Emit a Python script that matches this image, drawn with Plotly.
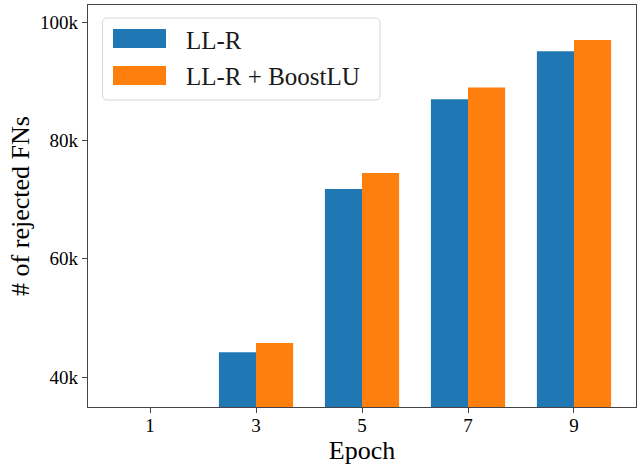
import plotly.graph_objects as go

epochs = ["1", "3", "5", "7", "9"]
series_names = ["LL-R", "LL-R + BoostLU"]
llr = [30000, 44200, 71800, 87000, 95100]
llr_boost = [31000, 45750, 74500, 89000, 97000]
colors = ["#1f77b4", "#ff7f0e"]

W, H = 637, 465
L, R, T, B = 88, 1, 5, 58
pw, ph = W - L - R, H - T - B

def px(x):
    return (x - L) / pw

def py(y):
    return (H - B - y) / ph

FONT = "Liberation Serif"

fig = go.Figure()
for name, vals, c in zip(series_names, [llr, llr_boost], colors):
    fig.add_trace(go.Bar(x=epochs, y=vals, name=name, marker=dict(color=c, line=dict(width=0)),
                         showlegend=False))

fig.update_layout(
    width=W, height=H,
    margin=dict(l=L, r=R, t=T, b=B, autoexpand=False),
    barmode="group", bargap=0.3, bargroupgap=0,
    plot_bgcolor="white", paper_bgcolor="white",
    font=dict(family=FONT, color="black"),
)
fig.update_xaxes(type="category", range=[-0.585, 4.585], showline=True, mirror=True,
                 linecolor="#444", linewidth=1.2, ticks="outside", ticklen=5, tickcolor="#444",
                 ticklabelstandoff=-4,
                 tickfont=dict(size=19, family=FONT), showgrid=False, automargin=False,
                 title=dict(text="Epoch", font=dict(size=26, family=FONT), standoff=3))
fig.update_yaxes(range=[34930, 102940], tickvals=[40000, 60000, 80000, 100000],
                 ticktext=["40k", "60k", "80k", "100k"], showline=True, mirror=True,
                 linecolor="#444", linewidth=1.2, ticks="outside", ticklen=5, tickcolor="#444",
                 tickfont=dict(size=19, family=FONT), showgrid=False, zeroline=False,
                 automargin=False,
                 title=dict(text="# of rejected FNs", font=dict(size=26, family=FONT), standoff=2))

# custom legend (matplotlib style)
x0, x1, y0, y1 = 102.5, 380, 18, 100
r = 5
rx, ry = r / pw, r / ph
X0, X1, Y0, Y1 = px(x0), px(x1), py(y0), py(y1)
path = (f"M {X0+rx},{Y0} L {X1-rx},{Y0} Q {X1},{Y0} {X1},{Y0-ry} "
        f"L {X1},{Y1+ry} Q {X1},{Y1} {X1-rx},{Y1} L {X0+rx},{Y1} Q {X0},{Y1} {X0},{Y1+ry} "
        f"L {X0},{Y0-ry} Q {X0},{Y0} {X0+rx},{Y0} Z")
fig.add_shape(type="path", path=path, xref="paper", yref="paper",
              line=dict(color="#d6d6d6", width=1), fillcolor="rgba(255,255,255,0.8)")
rows = [(29, 48, 40), (66, 85, 77)]
for (ya, yb, yc), name, c in zip(rows, series_names, colors):
    fig.add_shape(type="rect", xref="paper", yref="paper", x0=px(113), x1=px(166),
                  y0=py(yb), y1=py(ya), fillcolor=c, line=dict(width=0))
    fig.add_annotation(text=name, xref="paper", yref="paper", x=px(184), y=py(yc),
                       xanchor="left", yanchor="middle", showarrow=False,
                       font=dict(size=25, family=FONT, color="#1a1a1a"))

fig.write_html("out.html", config={"displayModeBar": False},
               post_script="document.body.style.margin='0';document.body.style.padding='0';")
